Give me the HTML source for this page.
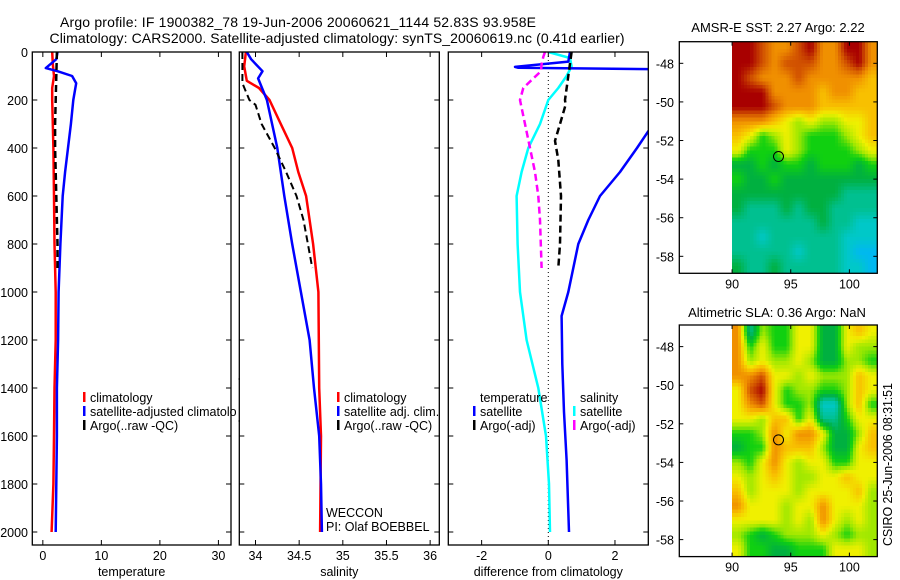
<!DOCTYPE html>
<html><head><meta charset="utf-8"><style>
body{margin:0;background:#fff;}
svg{display:block;font-family:"Liberation Sans",sans-serif;}
</style></head><body>
<svg id="fig" width="900" height="580" viewBox="0 0 900 580" xmlns="http://www.w3.org/2000/svg">
<rect width="900" height="580" fill="#fff"/>
<text x="298" y="27" font-size="14" text-anchor="middle" textLength="476">Argo profile: IF 1900382_78 19-Jun-2006 20060621_1144 52.83S 93.958E</text>
<text x="337" y="43" font-size="14" text-anchor="middle" textLength="575">Climatology: CARS2000. Satellite-adjusted climatology: synTS_20060619.nc (0.41d earlier)</text>
<text x="778" y="32" font-size="13" text-anchor="middle">AMSR-E SST: 2.27 Argo: 2.22</text>
<text x="777" y="317" font-size="13" text-anchor="middle">Altimetric SLA: 0.36 Argo: NaN</text>
<text transform="translate(892,546) rotate(-90)" font-size="12.5" textLength="163">CSIRO 25-Jun-2006 08:31:51</text>
<g id="root"></g>
</svg>
<script>
// ---------- data ----------
const depthTicks=[0,200,400,600,800,1000,1200,1400,1600,1800,2000];
const tempTicks=[0,10,20,30];
const salTicks=[34,34.5,35,35.5,36];
const diffTicks=[-2,0,2];
const lonTicks=[90,95,100];
const latTicks=[-48,-50,-52,-54,-56,-58];

const tClimDepth=[0,50,100,150,200,300,400,600,800,1000,1200,1400,1600,1800,2000];
const tClimVal=[1.6,1.7,1.9,1.6,1.6,1.7,1.8,1.9,2.0,2.2,2.2,2.0,1.9,1.8,1.5];
const tSatDepth=[0,30,67,80,100,130,200,300,400,500,600,800,1000,1200,1400,1600,1800,2000];
const tSatVal=[2.5,2.3,0.5,2.5,5.0,5.7,5.2,4.8,4.3,3.8,3.4,3.0,2.7,2.6,2.4,2.4,2.3,2.2];
const tArgoDepth=[0,100,200,300,400,500,600,700,800,900];
const tArgoVal=[2.4,2.3,2.2,2.1,2.1,2.2,2.3,2.4,2.5,2.5];

const sClimDepth=[0,60,120,150,200,300,400,500,600,800,1000,1400,1600,2000];
const sClimVal=[33.89,33.87,33.9,34.04,34.16,34.29,34.42,34.49,34.58,34.66,34.72,34.73,34.75,34.74];
const sSatDepth=[0,30,80,110,200,300,400,500,600,800,1000,1200,1400,1600,1800,2000];
const sSatVal=[33.9,33.95,34.08,34.03,34.13,34.19,34.25,34.29,34.33,34.42,34.52,34.62,34.67,34.73,34.75,34.76];
const sArgoDepth=[0,130,200,220,300,400,500,600,700,800,900];
const sArgoVal=[33.85,33.85,33.93,34.0,34.07,34.22,34.35,34.47,34.55,34.6,34.65];

const dTSatDepth=[0,40,62,66,76,250,330,400,500,600,700,800,900,1000,1100,1300,1500,1700,2000];
const dTSatVal=[0.65,0.6,-1.0,-0.9,6,6,3.0,2.66,2.15,1.55,1.2,0.9,0.75,0.6,0.4,0.42,0.47,0.55,0.62];
const dSSatDepth=[0,25,60,100,150,200,300,400,500,600,800,1000,1200,1400,1600,1800,2000];
const dSSatVal=[0.0,0.65,0.7,0.55,0.3,0.0,-0.25,-0.6,-0.8,-0.95,-0.92,-0.85,-0.65,-0.3,-0.07,0.02,0.05];
const dTArgoDepth=[0,100,200,220,300,370,450,600,800,900];
const dTArgoVal=[0.7,0.6,0.5,0.52,0.35,0.2,0.3,0.38,0.35,0.3];
const dSArgoDepth=[0,20,50,80,110,150,200,300,400,500,600,700,900];
const dSArgoVal=[-0.1,-0.15,-0.2,-0.22,-0.45,-0.75,-0.85,-0.7,-0.55,-0.4,-0.3,-0.25,-0.2];

const sstGrid=[
[10,10,9,8,8,9,10,8,8,10,10,8],
[10,10,9,8,9,9,9,8,8,9,10,8],
[10,9,8,8,8,9,8,8,8,8,8,7],
[10,10,10,8,8,8,8,7,8,8,7,7],
[10,10,10,9,8,8,8,7,7,7,7,7],
[8,8,8,7,6,5,6,5,5,6,6,7],
[7,6,4,5,6,5,4,4,4,5,6,7],
[6,4,4,4,6,5,4,4,4,4,5,6],
[3,3,4,3,4,4,3,4,4,4,3,4],
[4,3,3,4,3,3,3,3,3,3,3,3],
[3,3,3,3,3,3,3,3,3,2,2,2],
[3,2,2,2,3,2,3,3,2,2,2,2],
[2,2,2,2,2,2,2,3,2,2,1,1],
[2,2,1,2,2,2,2,2,2,1,1,1],
[2,2,2,2,2,1,2,2,2,1,0,0],
[3,2,2,3,2,2,2,2,2,1,1,0]];
const slaGrid=[
[8,2,5,4,4,6,6,3,3,6,7,6],
[8,4,6,4,4,6,6,3,3,6,5,5],
[8,5,6,5,5,6,5,3,3,5,5,4],
[8,8,9,6,6,5,6,5,5,5,7,6],
[6,9,10,6,4,5,5,4,4,5,7,6],
[6,8,9,6,4,4,5,1,1,5,7,4],
[6,6,5,7,7,4,6,2,2,4,6,6],
[4,4,5,8,6,8,8,6,3,3,5,7],
[3,4,4,8,7,7,7,5,3,3,6,7],
[5,4,6,8,6,5,6,6,4,4,6,6],
[6,5,6,7,6,5,5,6,6,7,6,6],
[7,5,6,6,6,5,6,6,6,6,7,5],
[8,6,6,6,5,6,6,8,6,6,6,5],
[6,6,6,6,5,6,5,8,6,5,6,5],
[5,4,3,4,5,5,5,6,5,4,5,5],
[6,4,4,3,3,4,4,4,6,6,6,5]];
const palette=[[0,184,240],[0,200,200],[0,192,144],[0,176,64],[16,208,16],[160,232,0],[240,240,0],[248,192,0],[240,144,0],[208,80,0],[168,0,0]];
const argoLon=93.958, argoLat=-52.83;

// ---------- drawing ----------
const NS='http://www.w3.org/2000/svg';
const root=document.getElementById('root');
function mk(tag,attrs,parent){const e=document.createElementNS(NS,tag);for(const k in attrs)e.setAttribute(k,attrs[k]);(parent||root).appendChild(e);return e;}
const yTop=52, yPerM=0.24, yBot=545;
const yD=d=>yTop+d*yPerM;

const panels=[
 {name:'temperature',x0:32.3,x1:231,v0:-1.8,v1:32.15,ticks:tempTicks,label:'temperature'},
 {name:'salinity',x0:239.3,x1:439.3,v0:33.8144,v1:36.105,ticks:salTicks,label:'salinity'},
 {name:'difference',x0:448.3,x1:648.3,v0:-3,v1:3,ticks:diffTicks,label:'difference from climatology'}];
panels.forEach(p=>{p.sx=v=>p.x0+(v-p.v0)/(p.v1-p.v0)*(p.x1-p.x0);});

panels.forEach((p,i)=>{
  const g=mk('g',{});
  
  
  const cp=mk('clipPath',{id:'clip'+i},g);
  mk('rect',{x:p.x0,y:yTop,width:p.x1-p.x0,height:yBot-yTop},cp);
  p.g=mk('g',{'clip-path':'url(#clip'+i+')'},g);
  const fr=mk('rect',{x:p.x0,y:yTop,width:p.x1-p.x0,height:yBot-yTop,fill:'none',stroke:'#000','stroke-width':1.3},g);
  
  
  depthTicks.forEach(d=>{
    mk('line',{x1:p.x0,x2:p.x0+5,y1:yD(d),y2:yD(d),stroke:'#000'},g);
    mk('line',{x1:p.x1,x2:p.x1-5,y1:yD(d),y2:yD(d),stroke:'#000'},g);
    if(i===0){const t=mk('text',{x:28,y:yD(d)+5,'font-size':12.5,'text-anchor':'end'},g);t.textContent=d;
      }
  });
  p.ticks.forEach(v=>{
    const x=p.sx(v);
    mk('line',{x1:x,x2:x,y1:yBot,y2:yBot-5,stroke:'#000'},g);
    mk('line',{x1:x,x2:x,y1:yTop,y2:yTop+5,stroke:'#000'},g);
    const t=mk('text',{x:x,y:yBot+15,'font-size':12.5,'text-anchor':'middle'},g);t.textContent=v;
    
  });
  const lb=mk('text',{x:(p.x0+p.x1)/2,y:576,'font-size':12.5,'text-anchor':'middle'},g);lb.textContent=p.label;
  
});

function line(p,depths,vals,color,w,dash,name){
  const pts=depths.map((d,k)=>p.sx(vals[k]).toFixed(1)+','+yD(d).toFixed(1)).join(' ');
  const e=mk('polyline',{points:pts,fill:'none',stroke:color,'stroke-width':w,'stroke-linejoin':'round'},p.g);
  if(dash)e.setAttribute('stroke-dasharray',dash);
  
  
}
const [pT,pS,pD]=panels;
line(pT,tClimDepth,tClimVal,'#f00',2.5,null,'temp-climatology-line');
line(pT,tSatDepth,tSatVal,'#00f',2.5,null,'temp-satellite-line');
line(pT,tArgoDepth,tArgoVal,'#000',2.5,'7,4','temp-argo-line');
line(pS,sClimDepth,sClimVal,'#f00',2.5,null,'sal-climatology-line');
line(pS,sSatDepth,sSatVal,'#00f',2.5,null,'sal-satellite-line');
line(pS,sArgoDepth,sArgoVal,'#000',2,'7,4','sal-argo-line');
const zl=mk('line',{x1:pD.sx(0),x2:pD.sx(0),y1:yTop,y2:yBot,stroke:'#000','stroke-dasharray':'1,3'},pD.g);


line(pD,dSSatDepth,dSSatVal,'#0ff',2.5,null,'sal-diff-satellite-line');
line(pD,dTSatDepth,dTSatVal,'#00f',2.5,null,'temp-diff-satellite-line');
line(pD,dTArgoDepth,dTArgoVal,'#000',2.5,'7,4','temp-diff-argo-line');
line(pD,dSArgoDepth,dSArgoVal,'#f0f',2.5,'7,4','sal-diff-argo-line');

function legend(items,x,y,name){
  const g=mk('g',{});
  
  
  items.forEach((it,k)=>{
    const yy=y+k*14;
    if(it.c){mk('rect',{x:x,y:yy-10,width:2.5,height:10,fill:it.c},g);}
    const t=mk('text',{x:x+7,y:yy,'font-size':12.5},g);t.textContent=it.t;
    
  });
}
legend([{c:'#f00',t:'climatology'},{c:'#00f',t:'satellite-adjusted climatology'},{c:'#000',t:'Argo(..raw -QC)'}],83,402,'temperature-legend');
legend([{c:'#f00',t:'climatology'},{c:'#00f',t:'satellite adj. clim.'},{c:'#000',t:'Argo(..raw -QC)'}],337,402,'salinity-legend');
legend([{c:null,t:'temperature'},{c:'#00f',t:'satellite'},{c:'#000',t:'Argo(-adj)'}],473,402,'diff-temperature-legend');
legend([{c:null,t:'salinity'},{c:'#0ff',t:'satellite'},{c:'#f0f',t:'Argo(-adj)'}],573,402,'diff-salinity-legend');
const cov=mk('rect',{x:236,y:380,width:16,height:40,fill:'#fff'});


mk('line',{x1:239.3,x2:239.3,y1:378,y2:422,stroke:'#000','stroke-width':1.3});
const w1=mk('text',{x:326,y:517,'font-size':12.5});w1.textContent='WECCON';

const w2=mk('text',{x:326,y:531,'font-size':12.5});w2.textContent='PI: Olaf BOEBBEL';


// maps
const mx0=679.3,mx1=877.3,lon0=85.5,lon1=102.38;
const sLon=v=>mx0+(v-lon0)/(lon1-lon0)*(mx1-mx0);
function colorAt(v){
  v=Math.max(0,Math.min(10,v));const i=Math.min(9,Math.floor(v)),f=v-i;
  const a=palette[i],b=palette[i+1];
  return 'rgb('+a.map((c,k)=>Math.round(c+(b[k]-c)*f)).join(',')+')';
}
function sample(grid,r,c){
  const nr=grid.length,nc=grid[0].length;
  r=Math.max(0,Math.min(nr-1,r));c=Math.max(0,Math.min(nc-1,c));
  const r0=Math.floor(r),c0=Math.floor(c),r1=Math.min(nr-1,r0+1),c1=Math.min(nc-1,c0+1);
  const fr=r-r0,fc=c-c0;
  return grid[r0][c0]*(1-fr)*(1-fc)+grid[r0][c1]*(1-fr)*fc+grid[r1][c0]*fr*(1-fc)+grid[r1][c1]*fr*fc;
}
function drawMap(grid,top,name,idx){
  const bot=top+231.6, latTop=-46.88, latBot=-58.88;
  const sLat=v=>top+(v-latTop)/(latBot-latTop)*(bot-top);
  const g=mk('g',{});
  
  
  const cp=mk('clipPath',{id:'mclip'+idx},g);
  mk('rect',{x:mx0,y:top,width:mx1-mx0,height:bot-top},cp);
  const cg=mk('g',{'clip-path':'url(#mclip'+idx+')','shape-rendering':'crispEdges'},g);
  const nr=grid.length,nc=grid[0].length,S=4;
  const dLon=(lon1-90)/(nc*S),dLat=(latTop-latBot)/(nr*S);
  for(let r=0;r<nr*S;r++)for(let c=0;c<nc*S;c++){
    const v=sample(grid,(r+0.5)/S-0.5,(c+0.5)/S-0.5);
    const x=sLon(90+c*dLon),y=sLat(latTop-r*dLat);
    const cell=mk('rect',{x:x,y:y,width:sLon(90+(c+1)*dLon)-x+0.5,height:sLat(latTop-(r+1)*dLat)-y+0.5,fill:colorAt(v)},cg);
    
    
  }
  mk('rect',{x:mx0,y:top,width:mx1-mx0,height:bot-top,fill:'none',stroke:'#000','stroke-width':1.3},g);
  lonTicks.forEach(v=>{const x=sLon(v);
    mk('line',{x1:x,x2:x,y1:bot,y2:bot-4,stroke:'#000'},g);
    mk('line',{x1:x,x2:x,y1:top,y2:top+4,stroke:'#000'},g);
    const t=mk('text',{x:x,y:bot+15,'font-size':12.5,'text-anchor':'middle'},g);t.textContent=v;
    });
  latTicks.forEach(v=>{const y=sLat(v);
    mk('line',{x1:mx0,x2:mx0+4,y1:y,y2:y,stroke:'#000'},g);
    mk('line',{x1:mx1,x2:mx1-4,y1:y,y2:y,stroke:'#000'},g);
    const t=mk('text',{x:674,y:y+5,'font-size':12.5,'text-anchor':'end'},g);t.textContent=v;
    });
  const m=mk('circle',{cx:sLon(argoLon),cy:sLat(argoLat),r:5,fill:'none',stroke:'#000','stroke-width':1},g);
  
  
}
drawMap(sstGrid,41.7,'sst-map',0);
drawMap(slaGrid,325,'sla-map',1);
</script>
</body></html>
